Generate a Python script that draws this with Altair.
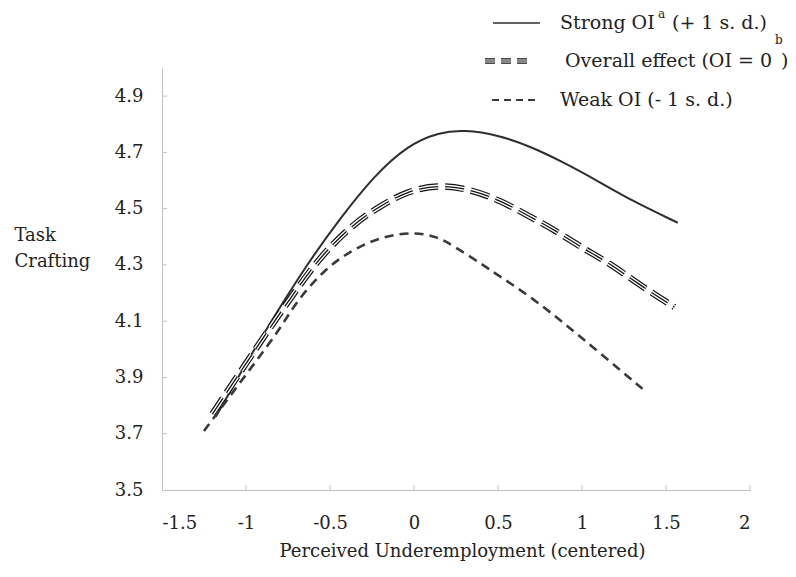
import altair as alt
import pandas as pd

# ---- data ----
strong_x = [-1.18, -1.0, -0.86, -0.64, -0.44, -0.24, -0.04, 0.15, 0.30, 0.50, 0.69, 0.89, 1.09, 1.29, 1.57]
strong_y = [3.76, 3.95, 4.09, 4.30, 4.465, 4.615, 4.725, 4.772, 4.78, 4.762, 4.722, 4.665, 4.60, 4.53, 4.45]

overall_x = [-1.2, -1.0, -0.82, -0.62, -0.5, -0.35, -0.2, -0.04, 0.14, 0.33, 0.51, 0.68, 0.85, 1.0, 1.155, 1.34, 1.55]
overall_y = [3.77, 3.95, 4.11, 4.28, 4.365, 4.45, 4.51, 4.562, 4.585, 4.57, 4.53, 4.475, 4.42, 4.36, 4.31, 4.23, 4.15]

weak_x = [-1.25, -1.1, -0.95, -0.8, -0.7, -0.54, -0.38, -0.2, 0.0, 0.14, 0.23, 0.41, 0.51, 0.71, 0.91, 1.11, 1.36]
weak_y = [3.71, 3.83, 3.95, 4.07, 4.17, 4.28, 4.35, 4.40, 4.418, 4.40, 4.37, 4.30, 4.26, 4.18, 4.085, 3.985, 3.86]

x_ticks = [-1.5, -1, -0.5, 0, 0.5, 1, 1.5, 2]
y_ticks = [3.5, 3.7, 3.9, 4.1, 4.3, 4.5, 4.7, 4.9]

x_title = "Perceived Underemployment (centered)"
y_title = ["Task", "Crafting"]
legend_strong = ["Strong OI", "a", "(+ 1 s. d.)"]
legend_overall = ["Overall effect (OI = 0", "b", ")"]
legend_weak = ["Weak OI (- 1 s. d.)"]

FONT = "DejaVu Serif"
W, H = 588, 422

strong = pd.DataFrame({"x": strong_x, "y": strong_y})
overall = pd.DataFrame({"x": overall_x, "y": overall_y})
weak = pd.DataFrame({"x": weak_x, "y": weak_y})

xs = alt.Scale(domain=[-1.5, 2], nice=False, zero=False)
ys = alt.Scale(domain=[3.5, 5.0], nice=False, zero=False)

X = alt.X("x:Q", scale=xs, axis=alt.Axis(
    values=x_ticks, labelExpr="'' + datum.value", ticks=False, grid=False,
    domainColor="#c0c0c0", labelFont=FONT, labelFontSize=18, labelColor="#222",
    labelPadding=24, title=x_title, titleFont=FONT, titleFontSize=18,
    titleFontWeight="normal", titleColor="#222", titleX=300, titleY=61,
    titleBaseline="middle", titleAlign="center"))
Y = alt.Y("y:Q", scale=ys, axis=alt.Axis(
    values=y_ticks, format=".1f", ticks=False, grid=False,
    domainColor="#c0c0c0", labelFont=FONT, labelFontSize=18, labelColor="#222",
    labelPadding=19, title=y_title, titleFont=FONT, titleFontSize=18,
    titleFontWeight="normal", titleColor="#222", titleAngle=0, titleAlign="left",
    titleBaseline="middle", titleX=-148, titleY=167, titleLineHeight=26))

base_line = dict(interpolate="basis")

solid = alt.Chart(strong).mark_line(color="#2e2e2e", strokeWidth=2, **base_line).encode(x=X, y=Y)

dash3 = [19, 7]
tri1 = alt.Chart(overall).mark_line(color="#111", strokeWidth=6.4, strokeDash=dash3, **base_line).encode(x="x:Q", y="y:Q")
tri2 = alt.Chart(overall).mark_line(color="white", strokeWidth=4.0, strokeDash=dash3, **base_line).encode(x="x:Q", y="y:Q")
tri3 = alt.Chart(overall).mark_line(color="#111", strokeWidth=1.3, strokeDash=dash3, **base_line).encode(x="x:Q", y="y:Q")

weakl = alt.Chart(weak).mark_line(color="#3a3a3a", strokeWidth=2.6, strokeDash=[9, 6], **base_line).encode(x="x:Q", y="y:Q")

# inward tick marks
xt = alt.Chart(pd.DataFrame({"x": x_ticks[1:]})).mark_rule(color="#c0c0c0", strokeWidth=1).encode(
    x="x:Q", y=alt.value(H), y2=alt.value(H - 5))
yt = alt.Chart(pd.DataFrame({"y": y_ticks[1:]})).mark_rule(color="#c0c0c0", strokeWidth=1).encode(
    y="y:Q", x=alt.value(0), x2=alt.value(5))

one = pd.DataFrame({"d": [0]})

def txt(t, px, py, size=19):
    return alt.Chart(one).mark_text(text=t, font=FONT, fontSize=size, color="#222",
                                    align="left", baseline="middle").encode(
        x=alt.value(px), y=alt.value(py))

def rule(px1, px2, py, color, width, dash=None):
    kw = dict(color=color, strokeWidth=width)
    if dash:
        kw["strokeDash"] = dash
    return alt.Chart(one).mark_rule(**kw).encode(x=alt.value(px1), x2=alt.value(px2), y=alt.value(py))

leg = [
    rule(331, 378, -45, "#2e2e2e", 1.6),
    txt(legend_strong[0], 398, -45),
    txt(legend_strong[1], 496, -54, 12),
    txt(legend_strong[2], 510, -45),
    rule(323, 371, -7, "#111", 5.4, [10, 6]),
    rule(323, 371, -7, "white", 3.2, [10, 6]),
    rule(323, 371, -7, "#111", 1.2, [10, 6]),
    txt(legend_overall[0], 403, -7),
    txt(legend_overall[1], 613, -28, 12),
    txt(legend_overall[2], 619, -7),
    rule(330, 374, 32, "#3a3a3a", 2.2, [7, 5]),
    txt(legend_weak[0], 398, 32),
]

chart = alt.layer(solid, tri1, tri2, tri3, weakl, xt, yt, *leg).properties(
    width=W, height=H,
    autosize=alt.AutoSizeParams(type="none"),
    padding={"left": 154, "top": 60, "right": 38, "bottom": 79},
).configure_view(stroke=None).configure_axis(domainWidth=1)

chart.save("out.html", embed_options={"renderer": "svg", "actions": False})
